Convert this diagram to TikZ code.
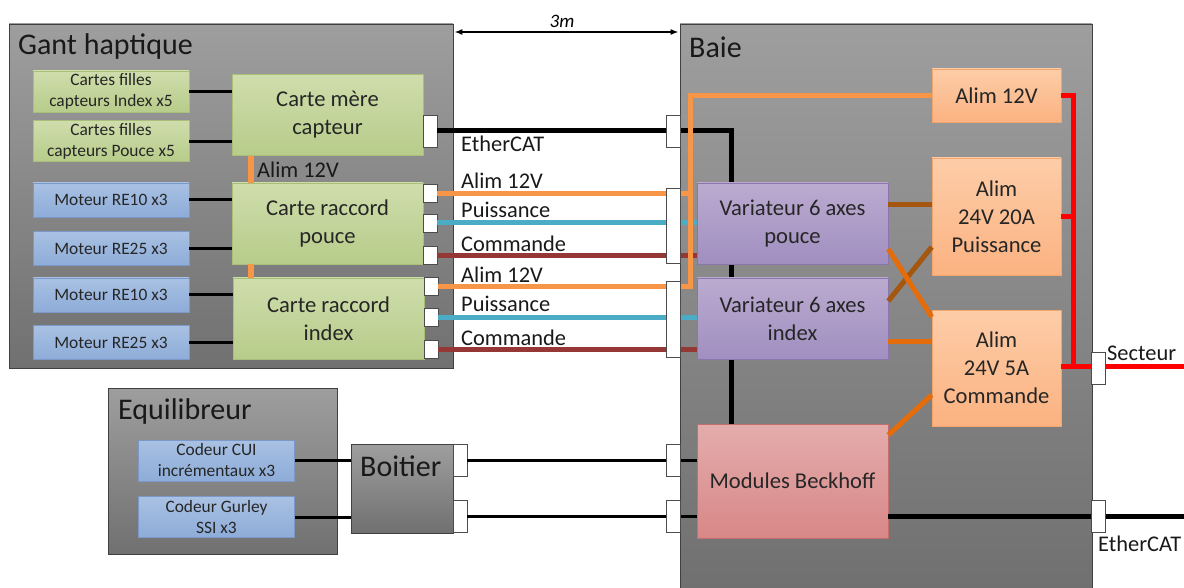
\documentclass[tikz,border=0pt]{standalone}
\usepackage{fontspec}
\setmainfont{Carlito}
\usetikzlibrary{arrows.meta, positioning}

\definecolor{greentop}{HTML}{CFDDAC}
\definecolor{greenbot}{HTML}{B7CC8A}
\definecolor{greenline}{HTML}{A9BE78}
\definecolor{bluetop}{HTML}{A9C1E3}
\definecolor{bluebot}{HTML}{8DACD8}
\definecolor{blueline}{HTML}{7C98C6}
\definecolor{purpletop}{HTML}{BBABD0}
\definecolor{purplebot}{HTML}{A08FC0}
\definecolor{purpleline}{HTML}{8A76AA}
\definecolor{orangetop}{HTML}{FDCDA8}
\definecolor{orangebot}{HTML}{FBB281}
\definecolor{orangeline}{HTML}{F2A56C}
\definecolor{redtop}{HTML}{E3ADAC}
\definecolor{redbot}{HTML}{D88787}
\definecolor{redline}{HTML}{C46E6E}
\definecolor{alimcolor}{HTML}{F79646}
\definecolor{puissancecolor}{HTML}{4BACC6}
\definecolor{commandecolor}{HTML}{953735}
\definecolor{browncolor}{HTML}{A5560F}
\definecolor{darkcolor}{HTML}{E46C0A}

\begin{document}
\begin{tikzpicture}[
  x=1pt, y=-1pt,
  box/.style={
    align=center,
    inner sep=0pt,
    text=black!85,
    line width=0.6pt
  },
  group/.style={box, draw=black!75, top color=black!38, bottom color=black!56, minimum width=444pt, minimum height=344pt},
  title/.style={anchor=west, inner sep=0pt, text=black!90, font=\fontsize{30}{33}\selectfont},
  card/.style={box, draw=greenline, top color=greentop, bottom color=greenbot, minimum width=191pt, minimum height=81pt, font=\fontsize{22.6}{28}\selectfont},
  daughter/.style={card, minimum width=156pt, minimum height=41pt, font=\fontsize{17.4}{21}\selectfont},
  motor/.style={box, draw=blueline, top color=bluetop, bottom color=bluebot, minimum width=156pt, minimum height=34pt, font=\fontsize{17.4}{21}\selectfont},
  drive/.style={box, draw=purpleline, top color=purpletop, bottom color=purplebot, minimum width=191pt, minimum height=81pt, font=\fontsize{22.6}{28}\selectfont},
  alim/.style={box, draw=orangeline, top color=orangetop, bottom color=orangebot, minimum width=129pt, font=\fontsize{22.6}{28}\selectfont},
  port/.style={draw=black!70, fill=white, line width=0.6pt, inner sep=0pt, minimum width=14pt, minimum height=32pt},
  porttiny/.style={port, minimum height=18pt},
  wirelabel/.style={anchor=west, inner sep=0pt, text=black!90, font=\fontsize{22.4}{25}\selectfont},
  thinwire/.style={black, line width=3pt},
  thickwire/.style={black, line width=5pt},
  alimwire/.style={line width=5pt, alimcolor},
  powerwire/.style={line width=5pt, puissancecolor},
  cmdwire/.style={line width=5pt, commandecolor},
  brownwire/.style={line width=5pt, browncolor},
  darkwire/.style={line width=5pt, darkcolor},
  redwire/.style={line width=5pt, red}
]
\useasboundingbox (0,0) rectangle (1184,588);

% --- Groups ---
\node[group] (gant) at (231,196) {};
\node[title] (ganttitle) at (18,47) {Gant haptique};
\node[group, minimum width=412pt, minimum height=564pt] (baie) at (886,306) {};
\node[title] (baietitle) at (689,47) {Baie};
\node[group, minimum width=229pt, minimum height=166pt] (equil) at (222.5,471) {};
\node[title] (equiltitle) at (118,412) {Equilibreur};
\node[group, minimum width=102pt, minimum height=89pt] (boitier) at (402,488.5) {};
\node[title] (boitiertitle) at (360,466) {Boitier};

% --- Gant haptique ---
\node[card] (mere) at (327.5,115) {Carte mère\\capteur};
\node[card] (raccpouce) at (327.5,223.5) {Carte raccord\\pouce};
\node[card] (raccindex) at (328.5,318.5) {Carte raccord\\index};

\node[daughter] (fillesindex) at (111,91.5) {Cartes filles\\capteurs Index x5};
\node[daughter, below=8pt of fillesindex] (fillespouce) {Cartes filles\\capteurs Pouce x5};
\node[motor] (re10a) at (111,200) {Moteur RE10 x3};
\node[motor, below=14pt of re10a] (re25a) {Moteur RE25 x3};
\node[motor] (re10b) at (111,295) {Moteur RE10 x3};
\node[motor, below=13pt of re10b] (re25b) {Moteur RE25 x3};

\node[port] (pmere) at (430,131) {};
\node[porttiny] (palima) at (430,193.5) {};
\node[porttiny] (ppuisa) at (430,223) {};
\node[porttiny] (pcmda) at (430,255.5) {};
\node[porttiny] (palimb) at (431,286.5) {};
\node[porttiny] (ppuisb) at (431,317) {};
\node[porttiny] (pcmdb) at (431,349) {};

% --- Equilibreur ---
\node[motor, minimum height=41pt] (codcui) at (216.5,460.5) {Codeur CUI\\incrémentaux x3};
\node[motor, minimum height=41pt, below=15pt of codcui] (codssi) {Codeur Gurley\\SSI x3};

\node[port] (boitcui) at (460,460.5) {};
\node[port] (boitssi) at (460,516.5) {};

% --- Baie ---
\node[port] (baiecat) at (673.5,131) {};
\node[port, minimum height=75pt] (baiepouce) at (673.5,225.5) {};
\node[port, minimum height=76pt] (baieindex) at (673.5,319) {};
\node[port] (baiecodcui) at (673.5,460.5) {};
\node[port] (baiecodssi) at (673.5,516.5) {};
\node[port] (baiesecteur) at (1098.5,368) {};
\node[port] (baieout) at (1098.5,516) {};
\coordinate (catturn) at (731,131);
\coordinate (busturn) at (690.5,286.5);
\coordinate (outend) at (1184,516);
\coordinate (secteurend) at (1184,366);
\coordinate (redturn) at (1073,366);

\node[box, draw=redline, top color=redtop, bottom color=redbot, minimum width=191pt, minimum height=114pt, font=\fontsize{22.6}{28}\selectfont] (beckhoff) at (792.5,481) {Modules Beckhoff};

% EtherCAT stays under the drives
\draw[thickwire] (pmere.east) -- (baiecat.west);
\draw[thickwire] (baiecat.east) -- (catturn) -- (catturn |- beckhoff.north);
\draw[thickwire] (baieout.west -| beckhoff.east) -- (baieout.west);
\draw[thickwire] (baieout.east) -- (outend);

\node[drive] (varpouce) at (792.5,223.5) {Variateur 6 axes\\pouce};
\node[drive] (varindex) at (792.5,318.5) {Variateur 6 axes\\index};

\node[alim, minimum height=53pt] (alima) at (996.5,95.5) {Alim 12V};
\node[alim, minimum height=117pt] (alimb) at (996.5,216.5) {Alim\\24V 20A\\Puissance};
\node[alim, minimum height=116pt] (alimc) at (996.5,368) {Alim\\24V 5A\\Commande};

% --- Small wires ---
\foreach \a/\b in {fillesindex/mere, fillespouce/mere, re10a/raccpouce, re25a/raccpouce, re10b/raccindex, re25b/raccindex, codcui/boitier, codssi/boitier}
  \draw[thinwire] (\a.east) -- (\a.east -| \b.west);

\draw[thinwire] (boitcui.east) -- (baiecodcui.west);
\draw[thinwire] (boitssi.east) -- (baiecodssi.west);
\draw[thinwire] (baiecodcui.east) -- (baiecodcui.east -| beckhoff.west);
\draw[thinwire] (baiecodssi.east) -- (baiecodssi.east -| beckhoff.west);

% --- Gant to Baie ---
\draw[powerwire] (ppuisa.east) -- (ppuisa.east -| baiepouce.west);
\draw[powerwire] (ppuisa.east -| baiepouce.east) -- (ppuisa.east -| varpouce.west);
\draw[cmdwire] (pcmda.east) -- (pcmda.east -| baiepouce.west);
\draw[cmdwire] (pcmda.east -| baiepouce.east) -- (pcmda.east -| varpouce.west);
\draw[powerwire] (ppuisb.east) -- (ppuisb.east -| baieindex.west);
\draw[powerwire] (ppuisb.east -| baieindex.east) -- (ppuisb.east -| varindex.west);
\draw[cmdwire] (pcmdb.east) -- (pcmdb.east -| baieindex.west);
\draw[cmdwire] (pcmdb.east -| baieindex.east) -- (pcmdb.east -| varindex.west);

\draw[alimwire] (palima.east) -- (palima.east -| baiepouce.west);
\draw[alimwire] (palima.east -| baiepouce.east) -- (palima.east -| busturn);
\draw[alimwire] (palimb.east) -- (palimb.east -| baieindex.west);
\draw[alimwire] (busturn -| baieindex.east) -- (busturn) |- (alima.west);
\draw[alimwire, line width=6pt] ([xshift=-76.5pt]mere.south) -- ([xshift=-76.5pt]raccpouce.north);
\draw[alimwire, line width=6pt] ([xshift=-76.5pt]raccpouce.south) -- ([xshift=-77.5pt]raccindex.north);

% --- Alims ---
\draw[brownwire] ([yshift=19pt]varpouce.east) -- ([yshift=19pt]varpouce.east -| alimb.west);
\draw[brownwire] ([yshift=17.5pt]varindex.east) -- ([yshift=-30.5pt]alimb.west);
\draw[darkwire] ([yshift=-25.5pt]varpouce.east) -- ([yshift=51pt]alimc.west);
\draw[darkwire] ([yshift=-22.5pt]varindex.east) -- ([yshift=-22.5pt]varindex.east -| alimc.west);
\draw[darkwire] ([yshift=46pt]beckhoff.east) -- ([yshift=-27pt]alimc.west);

\draw[redwire] (alima.east) -| (redturn);
\draw[redwire] (alimb.east) -- (alimb.east -| redturn);
\draw[redwire] (redturn -| alimc.east) -- (redturn -| baiesecteur.west);
\draw[redwire] (secteurend -| baiesecteur.east) -- (secteurend);

% --- Labels ---
\draw[{Latex[length=8pt]}-{Latex[length=8pt]}, line width=1.6pt] ([xshift=1pt,yshift=164pt]gant.east) -- ([xshift=-1pt,yshift=274pt]baie.west);
\node[inner sep=0pt, font=\itshape\fontsize{19}{22}\selectfont] (dist) at (562,21) {3m};
\node[wirelabel] (lbcat) at (461,144) {EtherCAT};
\node[wirelabel] (lbalima) at (461,181) {Alim 12V};
\node[wirelabel] (lbpuisa) at (461,210) {Puissance};
\node[wirelabel] (lbcmda) at (461,244) {Commande};
\node[wirelabel] (lbalimb) at (461,275) {Alim 12V};
\node[wirelabel] (lbpuisb) at (461,304) {Puissance};
\node[wirelabel] (lbcmdb) at (461,338) {Commande};
\node[wirelabel] (lbmere) at (257,170) {Alim 12V};
\node[wirelabel] (lbsect) at (1107,353) {Secteur};
\node[wirelabel] (lbout) at (1098,544) {EtherCAT};

\end{tikzpicture}
\end{document}
